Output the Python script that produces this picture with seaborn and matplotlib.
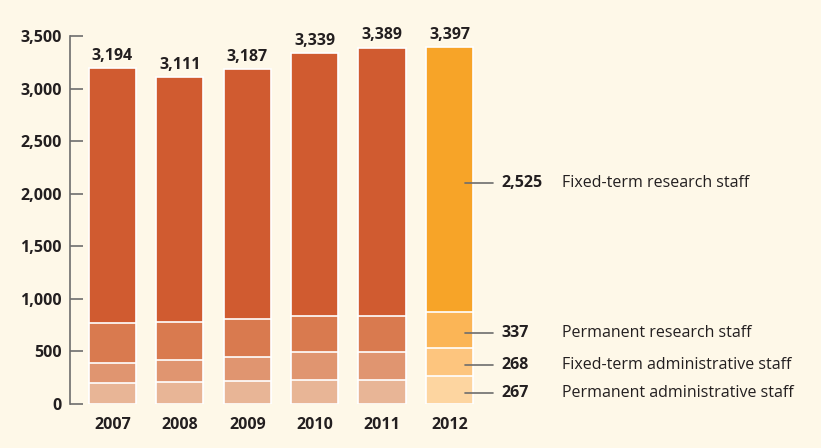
import numpy as np
import pandas as pd
import matplotlib
matplotlib.use("Agg")
import matplotlib.pyplot as plt
import seaborn as sns

# --- data ---
years = ["2007", "2008", "2009", "2010", "2011", "2012"]
totals = [3194, 3111, 3187, 3339, 3389, 3397]
perm_admin = [202, 206, 222, 228, 228, 267]
fixed_admin = [188, 209, 225, 266, 266, 268]
perm_research = [377, 367, 358, 342, 342, 337]
fixed_research = [t - a - b - c for t, a, b, c in zip(totals, perm_admin, fixed_admin, perm_research)]

series_labels = ["Permanent administrative staff", "Fixed-term administrative staff",
                 "Permanent research staff", "Fixed-term research staff"]

# colours per layer: past years / 2012
old_cols = ["#e8b596", "#e09570", "#d97a4f", "#d05b30"]
new_cols = ["#fdd5a0", "#fdc57e", "#fbb556", "#f7a428"]

BG = "#fef8e8"
TXT = "#231f20"

sns.set_style("white")
plt.rcParams['font.family'] = ['Open Sans', 'DejaVu Sans']

fig = plt.figure(figsize=(8.21, 4.48), dpi=100, facecolor=BG)
ax = fig.add_axes([70 / 821, 1 - 404 / 448, 1 - 70 / 821, (404 - 36) / 448])
ax.set_facecolor(BG)

layers = [perm_admin, fixed_admin, perm_research, fixed_research]
cum = np.cumsum(np.array(layers), axis=0)

# draw cumulative bars tallest first so white edges mark the segment boundaries
for i in range(3, -1, -1):
    df = pd.DataFrame({"year": years, "value": cum[i]})
    pal = {y: (new_cols[i] if y == "2012" else old_cols[i]) for y in years}
    sns.barplot(data=df, x="year", y="value", hue="year", palette=pal, legend=False,
                width=0.70, edgecolor="white", linewidth=1.2, saturation=1, ax=ax)

ax.set_xlim(-0.63, (821 - 112.5) / 67.4)
ax.set_ylim(0, 3500)
ax.set_yticks(range(0, 3501, 500))
ax.set_yticklabels([f"{v:,}" for v in range(0, 3501, 500)], fontsize=11.5, fontweight="bold", color=TXT)
ax.set_xticks(range(len(years)))
ax.set_xticklabels(years, fontsize=11.5, fontweight="bold", color=TXT)
ax.tick_params(axis="y", left=True, direction="in", length=9, width=1.2, color="#6d6d6d", pad=6)
ax.tick_params(axis="x", length=0, pad=9)
ax.set_xlabel("")
ax.set_ylabel("")
for s in ["top", "right", "bottom"]:
    ax.spines[s].set_visible(False)
ax.spines["left"].set_color("#6d6d6d")
ax.spines["left"].set_linewidth(1.2)

# totals above bars
for i, t in enumerate(totals):
    ax.text(i, t + 40, f"{t:,}", ha="center", va="bottom", fontsize=11.5,
            fontweight="bold", color=TXT, clip_on=False)

# annotations for 2012
last = len(years) - 1
bottoms = np.concatenate([[0], cum[:, last][:-1]])
for i in range(4):
    val = layers[i][last]
    mid = bottoms[i] + val / 2 - 30
    ax.plot([last + 0.23, last + 0.65], [mid, mid], color="#6d6d6d", lw=1.2, clip_on=False)
    ax.text(last + 0.77, mid, f"{val:,}", ha="left", va="center", fontsize=11.5,
            fontweight="bold", color=TXT)
    ax.text(last + 1.67, mid, series_labels[i], ha="left", va="center", fontsize=11.5,
            color=TXT)

fig.savefig("out.png", dpi=100, facecolor=BG)
